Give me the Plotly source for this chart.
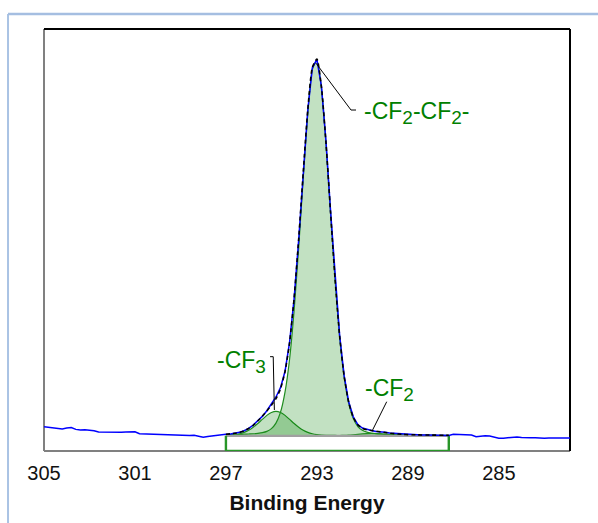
import plotly.graph_objects as go

# ---------------- data ----------------
# raw spectrum: binding energy grid (eV, 0.2 eV steps) and intensity (a.u.)
be_raw = [round(305.0 - 0.2 * i, 1) for i in range(117)]
counts_raw = [
    # 305.0 -> 297.2
    5.76, 5.66, 5.50, 5.30, 5.24, 5.45, 5.58, 5.12, 4.98, 5.03,
    4.96, 4.80, 4.50, 4.47, 4.43, 4.46, 4.42, 4.44, 4.50, 4.48,
    4.57, 4.10, 4.05, 4.03, 4.00, 3.95, 3.90, 3.86, 3.78, 3.70,
    3.63, 3.70, 3.68, 3.72, 3.45, 3.25, 3.45, 3.60, 3.80, 3.86,
    # 297.0 -> 287.2
    3.95, 4.05, 4.18, 4.42, 4.80, 5.35, 6.15, 7.15, 8.20, 9.55,
    11.10, 12.80, 15.00, 18.90, 25.80, 36.20, 50.10, 65.90, 80.80, 90.80,
    92.80, 86.40, 73.30, 56.90, 40.90, 27.40, 17.80, 11.60, 8.10, 6.25,
    5.45, 5.10, 4.85, 4.62, 4.60, 4.45, 4.28, 4.20, 4.10, 3.98,
    3.92, 3.90, 3.84, 3.78, 3.82, 3.76, 3.72, 3.70, 3.66, 3.70,
    # 287.0 -> 281.8
    3.96, 3.90, 3.80, 3.72, 3.78, 3.40, 3.55, 3.62, 3.55, 3.25,
    3.02, 3.05, 3.15, 3.12, 3.30, 3.22, 3.10, 3.15, 3.12, 3.02,
    3.05, 3.10, 3.12, 3.06, 3.08, 3.03, 3.08,
]

# fit region (297.0 -> 287.2 eV)
be_fit = [round(297.0 - 0.2 * i, 1) for i in range(50)]
background_level = 3.6
comp_cf2cf2 = [
    0.25, 0.28, 0.31, 0.34, 0.38, 0.43, 0.49, 0.60, 0.75, 1.05,
    1.7, 3.0, 5.6, 10.4, 18.2, 29.8, 44.65, 61.2, 76.5, 86.8,
    89.0, 82.5, 69.3, 52.9, 36.9, 23.5, 13.9, 7.7, 4.1, 2.2,
    1.3, 0.87, 0.66, 0.53, 0.46, 0.41, 0.36, 0.32, 0.29, 0.26,
    0.24, 0.22, 0.20, 0.18, 0.17, 0.15, 0.14, 0.13, 0.12, 0.12,
]
comp_cf3 = [
    0.13, 0.19, 0.29, 0.48, 0.80, 1.30, 2.01, 2.90, 3.89, 4.84,
    5.54, 5.80, 5.54, 4.84, 3.89, 2.90, 2.01, 1.30, 0.80, 0.48,
    0.29, 0.19, 0.13, 0.09, 0.08, 0.07, 0.06, 0.05, 0.05, 0.04,
    0.04, 0.03, 0.03, 0.03, 0.03, 0.03, 0.03, 0.03, 0.03, 0.03,
    0.02, 0.02, 0.02, 0.02, 0.02, 0.02, 0.02, 0.02, 0.02, 0.02,
]
comp_cf2 = [
    0, 0, 0, 0, 0, 0, 0, 0, 0, 0,
    0, 0, 0, 0, 0, 0, 0, 0, 0, 0,
    0, 0, 0.01, 0.02, 0.03, 0.06, 0.10, 0.16, 0.25, 0.35,
    0.45, 0.52, 0.55, 0.52, 0.45, 0.35, 0.25, 0.16, 0.10, 0.06,
    0.03, 0.02, 0.01, 0, 0, 0, 0, 0, 0, 0,
]

tick_vals = [305, 301, 297, 293, 289, 285]
tick_text = ["305", "301", "297", "293", "289", "285"]
x_range = [305.0, 281.87]
y_range = [0, 100]

# ---------------- styles ----------------
FONT = "Liberation Sans, Arial, sans-serif"
GREEN_TXT = "rgb(0,128,0)"
GREEN_LINE = "rgb(30,140,30)"
GREEN_FILL = "rgba(0,128,0,0.24)"

bg = [background_level] * len(be_fit)
envelope = [background_level + a + b + c for a, b, c in zip(comp_cf2cf2, comp_cf3, comp_cf2)]

fig = go.Figure()

for comp in (comp_cf3, comp_cf2cf2, comp_cf2):
    fig.add_trace(go.Scatter(x=be_fit, y=bg, mode="lines", line=dict(width=0, color="rgba(0,0,0,0)"),
                             hoverinfo="skip", showlegend=False))
    fig.add_trace(go.Scatter(x=be_fit, y=[background_level + v for v in comp], mode="lines",
                             line=dict(color=GREEN_LINE, width=1.2, shape="spline", smoothing=0.6),
                             fill="tonexty", fillcolor=GREEN_FILL, showlegend=False))

# background line of the region
fig.add_trace(go.Scatter(x=[be_fit[0], be_fit[-1]], y=[background_level, background_level], mode="lines",
                         line=dict(color="rgb(160,160,160)", width=2.2), showlegend=False))
# region bracket
fig.add_trace(go.Scatter(x=[be_fit[0], be_fit[0], be_fit[-1], be_fit[-1]],
                         y=[background_level, 0, 0, background_level], mode="lines",
                         line=dict(color="rgb(40,150,40)", width=2.4), showlegend=False))
# raw data
fig.add_trace(go.Scatter(x=be_raw, y=counts_raw, mode="lines",
                         line=dict(color="rgb(0,0,255)", width=1.5), showlegend=False))
# envelope
fig.add_trace(go.Scatter(x=be_fit, y=envelope, mode="lines",
                         line=dict(color="black", width=1.6, dash="4px,3px", shape="spline", smoothing=0.6),
                         showlegend=False))

shapes = [
    # plot frame
    dict(type="line", xref="paper", yref="paper", x0=0, x1=0, y0=0, y1=1, line=dict(color="rgb(128,128,128)", width=2), layer="below"),
    dict(type="line", xref="paper", yref="paper", x0=0, x1=1, y0=0, y1=0, line=dict(color="rgb(128,128,128)", width=2), layer="below"),
    dict(type="line", xref="paper", yref="paper", x0=0, x1=1, y0=1, y1=1, line=dict(color="black", width=2), layer="below"),
    dict(type="line", xref="paper", yref="paper", x0=1, x1=1, y0=0, y1=1, line=dict(color="black", width=2), layer="below"),
    # outer light-blue frame
    dict(type="line", xref="paper", yref="paper", x0=-0.0684, x1=-0.0684, y0=-0.3, y1=1.0355, line=dict(color="rgb(170,195,228)", width=2)),
    dict(type="line", xref="paper", yref="paper", x0=-0.0684, x1=1.2, y0=1.0355, y1=1.0355, line=dict(color="rgb(165,190,225)", width=2.5)),
    # leader lines
    dict(type="path", xref="x", yref="y", path="M 293.04 91.9 L 291.5 80.8 L 291.28 80.8", line=dict(color="black", width=1)),
    dict(type="path", xref="x", yref="y", path="M 295.06 22.35 L 294.92 22.35 L 294.87 9.72", line=dict(color="black", width=1)),
    dict(type="line", xref="x", yref="y", x0=289.93, y0=11.68, x1=290.55, y1=4.98, line=dict(color="black", width=1)),
]

SUB = '<sub><span style="font-size:19px">{}</span></sub>'
annotations = [
    dict(x=291.03, y=80.0, xref="x", yref="y", xanchor="left", yanchor="middle", showarrow=False,
         text="-CF" + SUB.format("2") + "-CF" + SUB.format("2") + "-", font=dict(family=FONT, size=23, color=GREEN_TXT)),
    dict(x=297.48, y=21.0, xref="x", yref="y", xanchor="left", yanchor="middle", showarrow=False,
         text="-CF" + SUB.format("3"), font=dict(family=FONT, size=23, color=GREEN_TXT)),
    dict(x=290.99, y=14.4, xref="x", yref="y", xanchor="left", yanchor="middle", showarrow=False,
         text="-CF" + SUB.format("2"), font=dict(family=FONT, size=23, color=GREEN_TXT)),
]

fig.update_layout(
    width=598, height=523,
    margin=dict(l=44, r=28, t=29, b=72),
    paper_bgcolor="white", plot_bgcolor="white",
    showlegend=False,
    shapes=shapes, annotations=annotations,
    xaxis=dict(range=x_range, tickmode="array", tickvals=tick_vals, ticktext=tick_text,
               showgrid=False, zeroline=False, showline=False, ticks="",
               ticklabelstandoff=8,
               tickfont=dict(family=FONT, size=20, color="#111"),
               title=dict(text="<b>Binding Energy</b>", font=dict(family=FONT, size=21, color="#111"), standoff=12)),
    yaxis=dict(range=y_range, showgrid=False, zeroline=False, showline=False, ticks="", showticklabels=False),
)

fig.write_html("out.html")
